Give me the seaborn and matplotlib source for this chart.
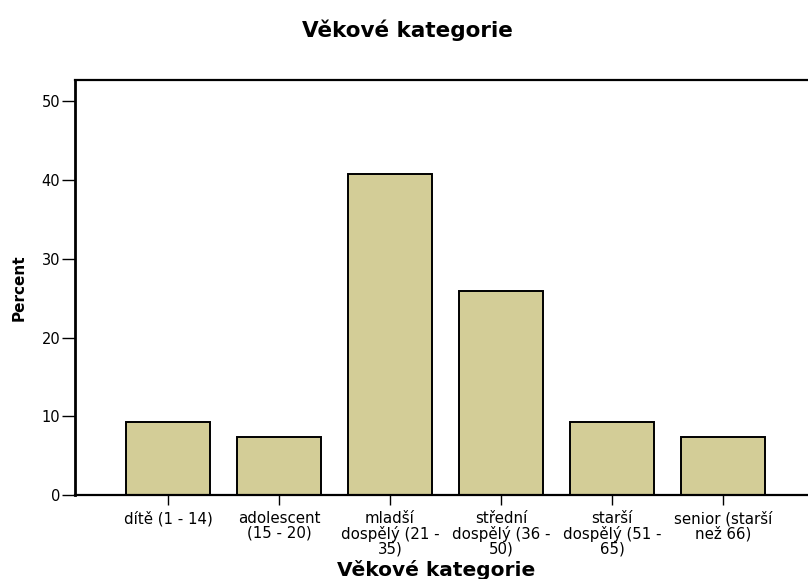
import pandas as pd
import matplotlib.pyplot as plt
import seaborn as sns

# Age categories and their share in percent
categories = ['dítě (1 - 14)', 'adolescent\n(15 - 20)', 'mladší\ndospělý (21 -\n35)',
              'střední\ndospělý (36 -\n50)', 'starší\ndospělý (51 -\n65)', 'senior (starší\nnež 66)']
percent = [9.26, 7.41, 40.74, 25.93, 9.26, 7.41]
yticks = [0, 10, 20, 30, 40, 50]

sns.set_style('white')
plt.rcParams['font.family'] = ['DejaVu Sans']
plt.rcParams['text.color'] = 'black'
plt.rcParams['axes.labelcolor'] = 'black'
plt.rcParams['xtick.color'] = 'black'
plt.rcParams['ytick.color'] = 'black'

df = pd.DataFrame({'kategorie': categories, 'percent': percent})

fig = plt.figure(figsize=(8.08, 5.79), dpi=100)
ax = fig.add_axes([75 / 808, 1 - 495 / 579, 733 / 808, 415 / 579])

sns.barplot(data=df, x='kategorie', y='percent', color='#D3CD97', saturation=1,
            width=0.757, edgecolor='black', linewidth=1.4, ax=ax)

ax.set_xlim(-0.838, 5.766)
ax.set_ylim(0, 52.7)
ax.set_yticks(yticks)
ax.tick_params(axis='both', direction='out', width=1, left=True, bottom=True)
ax.tick_params(axis='y', labelsize=10.5, length=9.5, pad=1)
ax.tick_params(axis='x', labelsize=10.8, length=7.5, pad=4)
for lab in ax.get_xticklabels():
    lab.set_linespacing(0.97)

for side in ['left', 'bottom', 'top']:
    ax.spines[side].set_visible(True)
    ax.spines[side].set_color('black')
    ax.spines[side].set_linewidth(1.6)
ax.spines['left'].set_linewidth(2)
ax.spines['right'].set_visible(False)

ax.set_ylabel('Percent', fontsize=11, fontweight='bold')
ax.yaxis.set_label_coords(-0.066, 0.5)
ax.set_xlabel('Věkové kategorie', fontsize=14.5, fontweight='bold')
ax.xaxis.set_label_coords(0.4925, -0.157)
fig.text(407 / 808, 1 - 30 / 579, 'Věkové kategorie', ha='center', va='center',
         fontsize=15.5, fontweight='bold')

fig.savefig('out.png', dpi=100)
